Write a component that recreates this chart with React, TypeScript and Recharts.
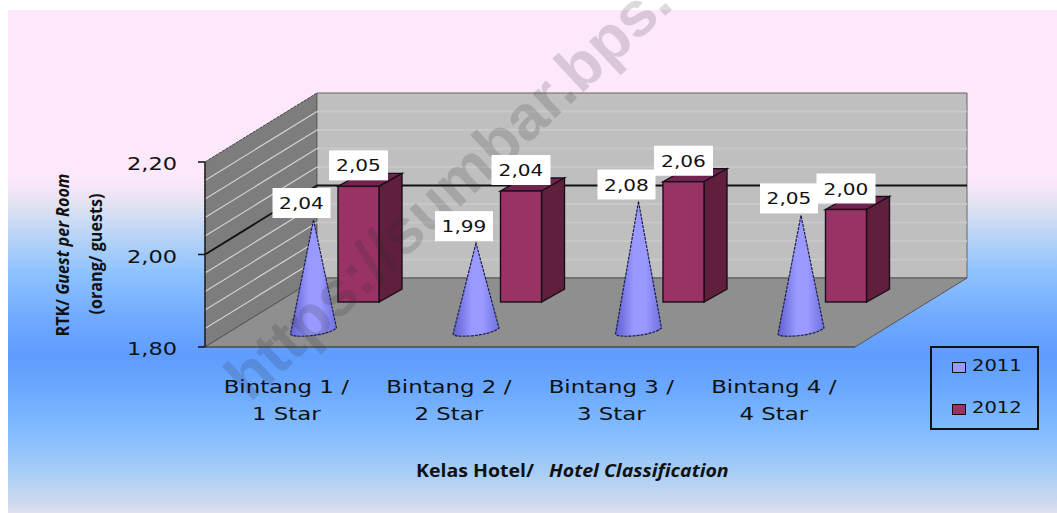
import React from 'react';
import { BarChart, Bar, XAxis, YAxis, Legend, LabelList, Label, ReferenceArea, ReferenceLine } from 'recharts';

const categories = ['Bintang 1 /|1 Star', 'Bintang 2 /|2 Star', 'Bintang 3 /|3 Star', 'Bintang 4 /|4 Star'];
const values2011 = [2.04, 1.99, 2.08, 2.05];
const values2012 = [2.05, 2.04, 2.06, 2.0];
const yTicks = [1.8, 2.0, 2.2];
const minorGrid = [1.84, 1.88, 1.92, 1.96, 2.04, 2.08, 2.12, 2.16];

const data = categories.map((name, i) => ({ name, y2011: values2011[i], y2012: values2012[i] }));

// fake 3d: the floor and walls are sheared by this much
const WALL_DX = 112;
const WALL_DY = -69;
const CONE_DX = 48;
const CONE_DY = -16;
const BOX_DX = 52;
const BOX_DY = -45;
const BOX_DEPTH_X = 23;
const BOX_DEPTH_Y = -13;

const FONT = '"DejaVu Sans", sans-serif';
const TITLE_FONT = '"Open Sans", sans-serif';
const comma = (v: number) => v.toFixed(2).replace('.', ',');

function Walls(p: any) {
  const { x, y, width, height } = p;
  const b = y + height;
  const r = x + width;
  const bx = x + WALL_DX;
  return (
    <g>
      <polygon points={`${x},${y} ${bx},${y + WALL_DY} ${bx},${b + WALL_DY} ${x},${b}`} fill="#7d7d7d" stroke="#444" strokeDasharray="3 1" />
      <polygon points={`${bx},${y + WALL_DY} ${r + WALL_DX},${y + WALL_DY} ${r + WALL_DX},${b + WALL_DY} ${bx},${b + WALL_DY}`} fill="#bfbfbf" stroke="#666" />
      <polygon points={`${x},${b} ${bx},${b + WALL_DY} ${r + WALL_DX},${b + WALL_DY} ${r},${b}`} fill="#8f8f8f" stroke="#555" />
    </g>
  );
}

function MinorLine(p: any) {
  const { x, y, width } = p;
  const bx = x + WALL_DX;
  const by = y + WALL_DY;
  return (
    <g>
      <line x1={x} y1={y} x2={bx} y2={by} stroke="#d2d2d2" strokeWidth={1.2} />
      <line x1={bx} y1={by} x2={x + width + WALL_DX} y2={by} stroke="#c8c8c8" strokeWidth={2} />
    </g>
  );
}

function MajorLine(p: any) {
  const { x, y, width } = p;
  const bx = x + WALL_DX;
  const by = y + WALL_DY;
  return <path d={`M${x},${y} L${bx},${by} L${x + width + WALL_DX},${by}`} fill="none" stroke="#111" strokeWidth={1.8} />;
}

function Cone(p: any) {
  const { x, y, width, height, index } = p;
  const cx = x + width / 2 + CONE_DX;
  const top = y + CONE_DY;
  const base = y + height + CONE_DY;
  const id = `cone${index}`;
  const d = `M${cx},${top} L${cx - 23},${base + 3} Q${cx - 22},${base + 6} ${cx - 6},${base + 5} Q${cx + 16},${base + 3} ${cx + 23},${base - 3} Z`;
  return (
    <g>
      <defs>
        <linearGradient id={id} x1="0" x2="1" y1="0" y2="0">
          <stop offset="0" stopColor="#6060d0" />
          <stop offset="0.4" stopColor="#9999ff" />
          <stop offset="0.65" stopColor="#9999ff" />
          <stop offset="1" stopColor="#7070e0" />
        </linearGradient>
      </defs>
      <path d={d} fill={`url(#${id})`} stroke="#1e1e50" strokeWidth={1.2} strokeDasharray="3 1" />
    </g>
  );
}

function Box(p: any) {
  const { x, y, width, height } = p;
  const l = x + BOX_DX;
  const r = l + width;
  const t = y + BOX_DY;
  const b = t + height;
  const dx = BOX_DEPTH_X;
  const dy = BOX_DEPTH_Y;
  return (
    <g stroke="#1a0f18" strokeWidth={1.4}>
      <polygon points={`${l},${t} ${l + dx},${t + dy} ${r + dx},${t + dy} ${r},${t}`} fill="#70244f" />
      <polygon points={`${r},${t} ${r + dx},${t + dy} ${r + dx},${b + dy} ${r},${b}`} fill="#611f3e" />
      <rect x={l} y={t} width={width} height={height} fill="#993366" />
    </g>
  );
}

function ValueBox(p: any, dx: number, dy: number, w: number) {
  const { x, y, width, value } = p;
  const cx = x + width / 2 + dx;
  const bottom = y + dy;
  return (
    <g>
      <rect x={cx - w / 2} y={bottom - 30} width={w} height={30} fill="#fff" />
      <g transform={`translate(${cx},${bottom - 9}) scale(1.22,1)`}>
        <text textAnchor="middle" fontFamily={FONT} fontSize={16.5} fill="#111">{comma(value)}</text>
      </g>
    </g>
  );
}

function YTick(p: any) {
  const { x, y, payload } = p;
  return (
    <g transform={`translate(${x - 19},${y + 8}) scale(1.25,1)`}>
      <text textAnchor="end" fontFamily={FONT} fontSize={18} fill="#111">{comma(payload.value)}</text>
    </g>
  );
}

function XTick(p: any) {
  const { x, y, payload } = p;
  const lines = String(payload.value).split('|');
  return (
    <g>
      {lines.map((t, i) => (
        <g key={t} transform={`translate(${x},${y + 38 + i * 27}) scale(1.27,1)`}>
          <text textAnchor="middle" fontFamily={FONT} fontSize={18} fill="#111">{t}</text>
        </g>
      ))}
    </g>
  );
}

function YTitle() {
  return (
    <g fontFamily={TITLE_FONT} fontWeight={700} fontSize={17} fill="#111">
      <text transform="translate(69,255) rotate(-90) scale(0.95,1)" textAnchor="middle">
        RTK/ <tspan fontStyle="italic">Guest per Room</tspan>
      </text>
      <text transform="translate(102,254) rotate(-90) scale(0.95,1)" textAnchor="middle">(orang/ guests)</text>
    </g>
  );
}

function XTitle() {
  return (
    <text transform="translate(416,477) scale(1.15,1)" fontFamily={TITLE_FONT} fontWeight={700} fontSize={17} fill="#111">
      Kelas Hotel/<tspan dx={13} fontStyle="italic">Hotel Classification</tspan>
    </text>
  );
}

function Watermark() {
  return (
    <text transform="translate(250,403) rotate(-43)" fontFamily='"Liberation Sans", sans-serif' fontWeight={700} fontSize={63} fill="rgba(40,40,40,0.17)">
      https://sumbar.bps.
    </text>
  );
}

function LegendBox(p: any) {
  const items = p.payload || [];
  return (
    <div style={{ position: 'relative', width: 109, height: 84, boxSizing: 'border-box', border: '2px solid #111' }}>
      {items.map((it: any, i: number) => (
        <div key={it.value}>
          <div style={{ position: 'absolute', left: 20, top: 14 + i * 42, width: 14, height: 11, boxSizing: 'border-box', background: it.color, border: '1.5px solid #111' }} />
          <div style={{ position: 'absolute', left: 40, top: 8 + i * 42, fontFamily: FONT, fontSize: 16, color: '#111', transform: 'scaleX(1.22)', transformOrigin: 'left' }}>{it.value}</div>
        </div>
      ))}
    </div>
  );
}

const background = 'linear-gradient(180deg, #fde7fa 0%, #fde7fa 34%, #dfe2f2 39%, #b8d4f6 45%, #8fc3ff 52%, #6ea8ff 62%, #5e9cff 69%, #6caaff 76%, #82bcff 84%, #a8cdf4 92%, #cfd9ee 98%, #dfe0f0 100%)';

export default function App() {
  return (
    <div style={{ position: 'absolute', left: 0, top: 0, width: 1057, height: 513 }}>
      <div style={{ position: 'absolute', left: 8, top: 10, width: 1049, height: 503, background }} />
      <BarChart
        width={1057}
        height={513}
        data={data}
        barSize={41}
        barGap={0}
        margin={{ top: 162, right: 202, bottom: 106, left: 145 }}
      >
        <ReferenceArea y1={1.8} y2={2.2} shape={Walls} ifOverflow="visible" />
        {minorGrid.map((v) => (
          <ReferenceArea key={v} y1={v} y2={v} shape={MinorLine} ifOverflow="visible" />
        ))}
        <ReferenceArea y1={2.0} y2={2.0} shape={MajorLine} ifOverflow="visible" />
        <XAxis dataKey="name" height={60} tickLine={false} axisLine={{ stroke: '#444' }} tick={XTick} interval={0}>
          <Label content={XTitle} />
        </XAxis>
        <YAxis width={60} domain={[1.8, 2.2]} ticks={yTicks} tickSize={7} axisLine={{ stroke: '#222', strokeWidth: 1.5 }} tickLine={{ stroke: '#111', strokeWidth: 1.5 }} tick={YTick}>
          <Label content={YTitle} />
        </YAxis>
        <Legend layout="vertical" align="center" verticalAlign="middle" width={109} wrapperStyle={{ left: 930, top: 346 }} content={LegendBox} />
        <Bar dataKey="y2011" name="2011" fill="#9999ff" shape={Cone} isAnimationActive={false}>
          <LabelList dataKey="y2011" content={(p: any) => ValueBox(p, CONE_DX - 12, CONE_DY - 2, 58)} />
        </Bar>
        <Bar dataKey="y2012" name="2012" fill="#993366" shape={Box} isAnimationActive={false}>
          <LabelList dataKey="y2012" content={(p: any) => ValueBox(p, BOX_DX, BOX_DY - 6, 59)} />
        </Bar>
        <ReferenceLine y={2.0} shape={Watermark} ifOverflow="visible" />
      </BarChart>
    </div>
  );
}
